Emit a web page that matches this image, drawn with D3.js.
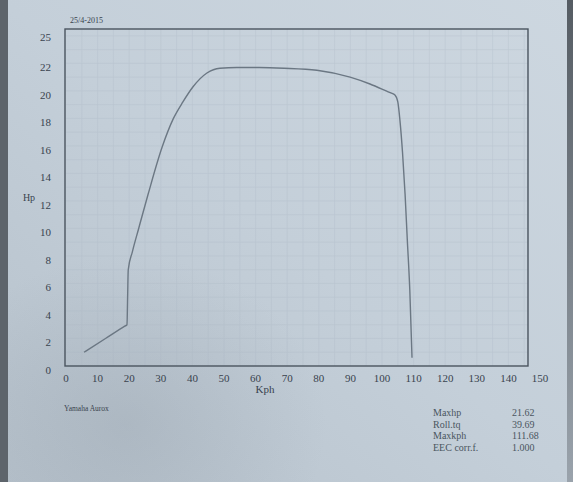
<!DOCTYPE html>
<html>
<head>
<meta charset="utf-8">
<script src="https://cdn.jsdelivr.net/npm/d3@7"></script>
<style>
  html, body { margin: 0; padding: 0; background: #c4cfd9; }
  svg { display: block; font-family: "Liberation Serif", "DejaVu Serif", serif; }
</style>
</head>
<body>
<svg id="chart" width="573" height="482"></svg>
<script>
// dyno run
const kph = [5.7, 12.5, 18.6, 19.3, 19.5, 19.7, 21.0, 23.0, 26.0, 30.4, 34.0, 37.0, 40.2, 44.6, 48.7, 54.1, 61.1, 69.0, 79.4, 89.9, 96.2, 101.3, 102.8, 104.1, 105.0, 105.7, 106.5, 107.3, 108.0, 108.8, 109.5];
const hp  = [1.0, 2.0, 2.9, 3.0, 5.0, 7.0, 8.3, 10.0, 12.5, 15.9, 18.0, 19.2, 20.3, 21.3, 21.65, 21.7, 21.7, 21.65, 21.5, 21.0, 20.5, 20.0, 19.85, 19.7, 19.2, 17.8, 15.5, 12.5, 9.2, 5.5, 0.6];

const xTicks = [0, 10, 20, 30, 40, 50, 60, 70, 80, 90, 100, 110, 120, 130, 140, 150];
const yTicks = [0, 2, 4, 6, 8, 10, 12, 14, 16, 18, 20, 22];
const yTopLabel = "25";

const statNames  = ["Maxhp", "Roll.tq", "Maxkph", "EEC corr.f."];
const statValues = ["21.62", "39.69", "111.68", "1.000"];

const dateText = "25/4-2015";
const bikeText = "Yamaha Aurox";

(function () {
    const W = 573, H = 482,
        xMax = 146.2, yMax = 24.5,
        ink = '#39434e';

    const svg = d3.select('#chart');
    const defs = svg.append('defs');

    // paper shading
    const grad = defs.append('linearGradient')
        .attr('id', 'paper')
        .attr('x1', '1').attr('y1', '0').attr('x2', '0').attr('y2', '1');
    grad.append('stop').attr('offset', '0').attr('stop-color', '#cdd7e0');
    grad.append('stop').attr('offset', '0.5').attr('stop-color', '#c4cfd9');
    grad.append('stop').attr('offset', '1').attr('stop-color', '#b6c1cb');

    const shade = defs.append('radialGradient')
        .attr('id', 'shade').attr('cx', '0.22').attr('cy', '0.88').attr('r', '0.35');
    shade.append('stop').attr('offset', '0').attr('stop-color', '#8c97a2').attr('stop-opacity', 0.3);
    shade.append('stop').attr('offset', '1').attr('stop-color', '#8c97a2').attr('stop-opacity', 0);

    const edge = defs.append('linearGradient')
        .attr('id', 'edge').attr('x1', '0').attr('y1', '0').attr('x2', '0').attr('y2', '1');
    edge.append('stop').attr('offset', '0').attr('stop-color', '#555c63');
    edge.append('stop').attr('offset', '1').attr('stop-color', '#9aa3ac');

    svg.append('rect').attr('width', W).attr('height', H).attr('fill', 'url(#paper)');
    svg.append('rect').attr('width', W).attr('height', H).attr('fill', 'url(#shade)');
    // table edge on the left, background on the right
    svg.append('rect').attr('x', 0).attr('y', 0).attr('width', 8).attr('height', H).attr('fill', '#5d646b');
    svg.append('rect').attr('x', 567).attr('y', 0).attr('width', 6).attr('height', H).attr('fill', 'url(#edge)');

    const x = d3.scaleLinear().domain([0, 150]).range([66, 540]);
    const y = d3.scaleLinear().domain([0, yMax]).range([366, 29]);

    // faint grid
    const grid = svg.append('g').attr('stroke', '#aab6c2').attr('stroke-width', 0.6).attr('opacity', 0.4);
    grid.selectAll('line.v')
        .data(d3.range(5, xMax, 5))
        .enter().append('line')
        .attr('x1', d => x(d)).attr('x2', d => x(d))
        .attr('y1', y(yMax)).attr('y2', y(0));
    grid.selectAll('line.h')
        .data(d3.range(1, yMax, 1))
        .enter().append('line')
        .attr('x1', x(0)).attr('x2', x(xMax))
        .attr('y1', d => y(d)).attr('y2', d => y(d));

    // frame
    svg.append('rect')
        .attr('x', x(0) - 1).attr('y', y(yMax))
        .attr('width', x(xMax) - x(0) + 1).attr('height', y(0) - y(yMax))
        .attr('fill', 'none').attr('stroke', '#4a545f').attr('stroke-width', 1.4);

    // tick labels
    svg.append('g').selectAll('text')
        .data(xTicks)
        .enter().append('text')
        .attr('x', d => x(d)).attr('y', 382)
        .attr('text-anchor', 'middle')
        .attr('font-size', 11).attr('fill', ink)
        .text(d => d);

    svg.append('g').selectAll('text')
        .data(yTicks)
        .enter().append('text')
        .attr('x', 51).attr('y', d => y(d) + 8)
        .attr('text-anchor', 'end')
        .attr('font-size', 11).attr('fill', ink)
        .text(d => d);

    svg.append('text')
        .attr('x', 51).attr('y', 41)
        .attr('text-anchor', 'end')
        .attr('font-size', 11).attr('fill', ink)
        .text(yTopLabel);

    svg.append('text').attr('x', 265).attr('y', 393).attr('text-anchor', 'middle')
        .attr('font-size', 11).attr('fill', ink).text('Kph');
    svg.append('text').attr('x', 29).attr('y', 201).attr('text-anchor', 'middle')
        .attr('font-size', 10).attr('fill', ink).text('Hp');

    svg.append('text').attr('x', 70).attr('y', 23)
        .attr('font-size', 8).attr('fill', ink).text(dateText);
    svg.append('text').attr('x', 64).attr('y', 411)
        .attr('font-size', 7.5).attr('fill', ink).text(bikeText);

    // stats block
    const stats = svg.append('g').attr('font-size', 10).attr('fill', '#4a5560');
    stats.selectAll('text.n')
        .data(statNames)
        .enter().append('text')
        .attr('x', 433).attr('y', (d, i) => 416 + i * 11.7)
        .text(d => d);
    stats.selectAll('text.v')
        .data(statValues)
        .enter().append('text')
        .attr('x', 512).attr('y', (d, i) => 416 + i * 11.7)
        .text(d => d);

    // power curve
    const pts = kph.map((d, i) => [d, hp[i]]);
    const line = d3.line()
        .x(d => x(d[0]))
        .y(d => y(d[1]))
        .curve(d3.curveMonotoneX);

    svg.append('path')
        .attr('d', line(pts))
        .attr('fill', 'none')
        .attr('stroke', '#6b7783')
        .attr('stroke-width', 1.4)
        .attr('stroke-linejoin', 'round');
}());
</script>
</body>
</html>
